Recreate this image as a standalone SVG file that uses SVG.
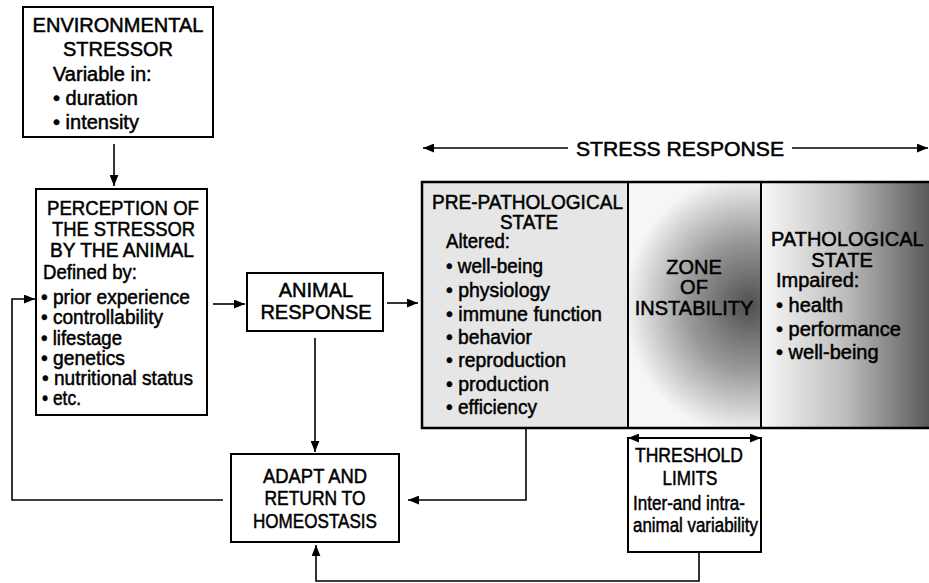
<svg xmlns="http://www.w3.org/2000/svg" width="929" height="583" viewBox="0 0 929 583">
<style>
  text { font-family: "Liberation Sans", Arial, sans-serif; font-size: 20px; fill: #000; stroke: #000; stroke-width: 0.5; }
  .c { text-anchor: middle; }
  .box { fill: #fff; stroke: #000; stroke-width: 2; }
  .line { fill: none; stroke: #000; stroke-width: 1.6; }
  .arr { fill: none; stroke: #000; stroke-width: 1.6; marker-end: url(#ah); }
</style>
<defs>
  <marker id="ah" viewBox="0 0 10 8" markerUnits="userSpaceOnUse" markerWidth="11" markerHeight="9" refX="10" refY="4" orient="auto-start-reverse">
    <path d="M0,0 L10,4 L0,8 z" fill="#000"/>
  </marker>
  <radialGradient id="zoneGrad" gradientUnits="userSpaceOnUse" cx="750" cy="305" r="125" gradientTransform="translate(750 305) scale(1 1.05) translate(-750 -305)">
    <stop offset="0" stop-color="#505050"/>
    <stop offset="0.5" stop-color="#999999"/>
    <stop offset="1" stop-color="#f6f6f6"/>
  </radialGradient>
  <linearGradient id="pathGrad" gradientUnits="userSpaceOnUse" x1="761" y1="0" x2="929" y2="0">
    <stop offset="0" stop-color="#f8f8f8"/>
    <stop offset="0.5" stop-color="#bdbdbd"/>
    <stop offset="1" stop-color="#5a5a5a"/>
  </linearGradient>
</defs>
<rect width="929" height="583" fill="#fff"/>

<g id="env-stressor">
  <rect class="box" x="23" y="7" width="190" height="130"/>
  <text class="c" x="118" y="32">ENVIRONMENTAL</text>
  <text class="c" x="118" y="56">STRESSOR</text>
  <text x="53" y="81">Variable in:</text>
  <text x="53" y="105">• duration</text>
  <text x="53" y="129">• intensity</text>
</g>

<g id="perception">
  <rect class="box" x="36" y="189" width="171" height="226"/>
  <text x="47" y="215" textLength="152" lengthAdjust="spacingAndGlyphs">PERCEPTION OF</text>
  <text x="52" y="236" textLength="143" lengthAdjust="spacingAndGlyphs">THE STRESSOR</text>
  <text x="50" y="257" textLength="144" lengthAdjust="spacingAndGlyphs">BY THE ANIMAL</text>
  <text x="43" y="279" textLength="94" lengthAdjust="spacingAndGlyphs">Defined by:</text>
  <text x="41" y="304" textLength="149" lengthAdjust="spacingAndGlyphs">• prior experience</text>
  <text x="41" y="324" textLength="122" lengthAdjust="spacingAndGlyphs">• controllability</text>
  <text x="41" y="345" textLength="81" lengthAdjust="spacingAndGlyphs">• lifestage</text>
  <text x="41" y="365" textLength="84" lengthAdjust="spacingAndGlyphs">• genetics</text>
  <text x="42" y="385" textLength="151" lengthAdjust="spacingAndGlyphs">• nutritional status</text>
  <text x="42" y="405" textLength="39" lengthAdjust="spacingAndGlyphs">• etc.</text>
</g>

<g id="animal-response">
  <rect class="box" x="247" y="273" width="136" height="58"/>
  <text class="c" x="316" y="297">ANIMAL</text>
  <text class="c" x="316" y="319">RESPONSE</text>
</g>

<g id="adapt">
  <rect class="box" x="231" y="454" width="168" height="88"/>
  <text class="c" x="315" y="483" textLength="104" lengthAdjust="spacingAndGlyphs">ADAPT AND</text>
  <text class="c" x="315" y="505" textLength="101" lengthAdjust="spacingAndGlyphs">RETURN TO</text>
  <text class="c" x="315" y="528" textLength="124" lengthAdjust="spacingAndGlyphs">HOMEOSTASIS</text>
</g>

<g id="stress-states">
  <rect x="422" y="182" width="206" height="246" fill="#e6e6e6"/>
  <rect x="628" y="182" width="133" height="246" fill="url(#zoneGrad)"/>
  <rect x="761" y="182" width="168" height="246" fill="url(#pathGrad)"/>
  <path d="M929,182 H422 V428 H929" fill="none" stroke="#000" stroke-width="2.5"/>
  <line x1="628" y1="182" x2="628" y2="428" stroke="#000" stroke-width="2"/>
  <line x1="761" y1="182" x2="761" y2="428" stroke="#000" stroke-width="2"/>
</g>

<g id="pre-pathological">
  <text x="432" y="209" textLength="191" lengthAdjust="spacingAndGlyphs">PRE-PATHOLOGICAL</text>
  <text x="500" y="229" textLength="58" lengthAdjust="spacingAndGlyphs">STATE</text>
  <text x="446" y="248" textLength="64" lengthAdjust="spacingAndGlyphs">Altered:</text>
  <text x="446" y="273" textLength="97" lengthAdjust="spacingAndGlyphs">• well-being</text>
  <text x="446" y="297" textLength="104" lengthAdjust="spacingAndGlyphs">• physiology</text>
  <text x="446" y="321" textLength="156" lengthAdjust="spacingAndGlyphs">• immune function</text>
  <text x="446" y="344" textLength="86" lengthAdjust="spacingAndGlyphs">• behavior</text>
  <text x="446" y="367" textLength="120" lengthAdjust="spacingAndGlyphs">• reproduction</text>
  <text x="446" y="391" textLength="103" lengthAdjust="spacingAndGlyphs">• production</text>
  <text x="446" y="414" textLength="91" lengthAdjust="spacingAndGlyphs">• efficiency</text>
</g>

<g id="zone-of-instability">
  <text class="c" x="694" y="274">ZONE</text>
  <text class="c" x="694" y="294">OF</text>
  <text class="c" x="694" y="315">INSTABILITY</text>
</g>

<g id="pathological">
  <text x="771" y="246">PATHOLOGICAL</text>
  <text class="c" x="842" y="267">STATE</text>
  <text x="776" y="287">Impaired:</text>
  <text x="776" y="312">• health</text>
  <text x="776" y="336">• performance</text>
  <text x="776" y="359">• well-being</text>
</g>

<g id="threshold">
  <rect class="box" x="628" y="438" width="133" height="114"/>
  <text class="c" x="689" y="462" textLength="108" lengthAdjust="spacingAndGlyphs">THRESHOLD</text>
  <text class="c" x="690" y="485" textLength="55" lengthAdjust="spacingAndGlyphs">LIMITS</text>
  <text x="633" y="510" textLength="112" lengthAdjust="spacingAndGlyphs">Inter-and intra-</text>
  <text x="633" y="532" textLength="125" lengthAdjust="spacingAndGlyphs">animal variability</text>
</g>

<g id="stress-response-label">
  <text class="c" x="680" y="156" textLength="208" lengthAdjust="spacingAndGlyphs">STRESS RESPONSE</text>
</g>

<g id="connectors">
  <line class="arr" x1="114" y1="144" x2="114" y2="186"/>
  <line class="arr" x1="213" y1="304" x2="245" y2="304"/>
  <line class="arr" x1="387" y1="303" x2="418" y2="303"/>
  <line class="arr" x1="315" y1="338" x2="315" y2="452"/>
  <path class="arr" d="M223,500 H12 V299 H35"/>
  <path class="arr" d="M526,428 V500 H408"/>
  <path class="arr" d="M699,552 V581 H316 V545"/>
  <line class="arr" x1="628" y1="438" x2="761" y2="438" style="marker-start:url(#ah)"/>
  <line class="arr" x1="568" y1="148" x2="423" y2="148"/>
  <line class="arr" x1="792" y1="148" x2="928" y2="148"/>
</g>
</svg>
